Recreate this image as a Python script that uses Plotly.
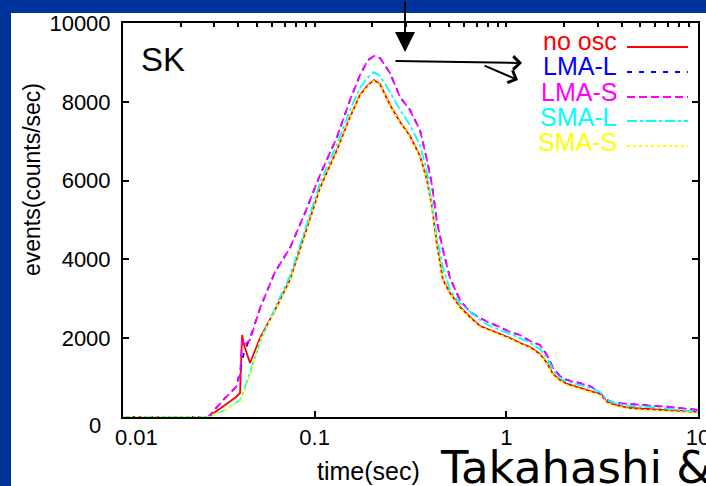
import plotly.graph_objects as go

# ---- data ----
time = [0.01, 0.0198, 0.0278, 0.0341, 0.0389, 0.0408, 0.0418, 0.0428, 0.046, 0.0519,
        0.0621, 0.0743, 0.089, 0.1066, 0.1308, 0.1529, 0.1724, 0.1898, 0.2039, 0.2193,
        0.2472, 0.2788, 0.3144, 0.3543, 0.3855, 0.4094, 0.4347, 0.4672, 0.5083, 0.573,
        0.6462, 0.7289, 0.8218, 0.9267, 1.045, 1.178, 1.329, 1.498, 1.63, 1.751,
        1.905, 2.073, 2.423, 2.733, 3.081, 3.351, 3.689, 4.418, 5.617, 7.143, 10.0]

no_osc = [0, 0, 0, 305, 508, 609, 2081, 1827, 1370, 2005,
          2716, 3477, 4619, 5812, 6777, 7614, 8172, 8426, 8553, 8452,
          7919, 7487, 7132, 6624, 6015, 5330, 4365, 3477, 3147, 2792,
          2538, 2310, 2208, 2107, 2005, 1878, 1777, 1599, 1370, 1091,
          939, 838, 736, 660, 584, 381, 305, 228, 203, 178, 127]

lma_l = [0, 0, 0, 482, 761, 1142, 1396, 1650, 2005, 2766,
         3680, 4289, 5178, 6142, 7106, 8046, 8680, 9061, 9162, 9112,
         8731, 8122, 7792, 7284, 6523, 5888, 4949, 4238, 3528, 2970,
         2665, 2513, 2386, 2284, 2157, 2081, 1929, 1827, 1574, 1244,
         1041, 939, 863, 787, 609, 431, 355, 330, 305, 254, 178]

lma_s = [0, 0, 0, 482, 761, 1066, 1954, 1827, 1954, 2766,
         3680, 4289, 5178, 6142, 7106, 8046, 8680, 9061, 9162, 9112,
         8731, 8122, 7792, 7284, 6523, 5888, 4949, 4238, 3528, 2970,
         2665, 2513, 2386, 2284, 2157, 2081, 1929, 1827, 1574, 1244,
         1041, 939, 863, 787, 609, 431, 355, 330, 305, 254, 178]

sma_l = [0, 0, 0, 178, 355, 431, 558, 685, 1142, 1904,
         2766, 3579, 4746, 5939, 6929, 7792, 8350, 8629, 8756, 8655,
         8249, 7792, 7411, 6904, 6218, 5431, 4543, 3782, 3223, 2893,
         2665, 2462, 2310, 2208, 2107, 2005, 1878, 1726, 1497, 1193,
         990, 888, 812, 736, 635, 431, 355, 279, 254, 203, 127]

sma_s = [0, 0, 0, 178, 330, 406, 508, 635, 1041, 1954,
         2690, 3452, 4594, 5787, 6751, 7589, 8147, 8401, 8528, 8426,
         7894, 7462, 7106, 6599, 5990, 5304, 4340, 3452, 3122, 2766,
         2513, 2284, 2183, 2081, 1980, 1853, 1751, 1574, 1345, 1066,
         914, 812, 711, 635, 558, 355, 279, 203, 178, 152, 102]

series_names = ["no osc", "LMA-L", "LMA-S", "SMA-L", "SMA-S"]
series_values = [no_osc, lma_l, lma_s, sma_l, sma_s]
series_colors = ["#ff0000", "#0000ff", "#ff00ff", "#00ffff", "#ffff00"]
series_dash = ["solid", "5px,7px", "8px,4px", "10px,3px,3px,3px", "3px,3px"]

x_tick_vals = [0.01, 0.1, 1, 10]
x_tick_text = ["", "0.1", "1", "10"]          # "0.01" drawn offset, as in the reference
y_tick_vals = [0, 2000, 4000, 6000, 8000, 10000]
y_tick_text = ["", "2000", "4000", "6000", "8000", "10000"]  # "0" drawn offset
x_minor_vals = [m * d for d in (0.01, 0.1, 1) for m in range(1, 10)] + [10]

# ---- layout geometry (pixels) ----
W, H = 706, 486
L, R, T, B = 123, 8, 23, 69
PW, PH = W - L - R, H - T - B


def px(xp):
    return (xp - L) / PW


def py(yp):
    return (H - B - yp) / PH


fig = go.Figure()
for name, vals, col, dash in zip(series_names, series_values, series_colors, series_dash):
    fig.add_trace(go.Scatter(x=time, y=vals, mode="lines", name=name,
                             line=dict(color=col, width=1.8, dash=dash),
                             showlegend=False))
# invisible trace so the top / right frame axes are drawn
fig.add_trace(go.Scatter(x=time, y=no_osc, xaxis="x2", yaxis="y2", mode="lines",
                         line=dict(width=0), opacity=0, showlegend=False,
                         hoverinfo="skip"))

FONT = "Arial, Liberation Sans"
tickfont = dict(family=FONT, size=22, color="black")
frame = dict(showline=True, linewidth=2, linecolor="black", showgrid=False,
             zeroline=False, tickcolor="black", tickwidth=2, ticks="inside",
             automargin=False)

fig.update_layout(
    width=W, height=H,
    margin=dict(l=L, r=R, t=T, b=B, pad=0, autoexpand=False),
    paper_bgcolor="#003399",
    plot_bgcolor="white",
    xaxis=dict(type="log", range=[-2, 1], tickvals=x_tick_vals, ticktext=x_tick_text,
               ticklen=6, tickfont=tickfont, ticklabeloverflow="allow", **frame),
    xaxis2=dict(type="log", range=[-2, 1], overlaying="x", side="top", anchor="y2",
                tickvals=x_minor_vals, ticklen=4, showticklabels=False, **frame),
    yaxis=dict(range=[0, 10000], tickvals=y_tick_vals, ticktext=y_tick_text,
               ticklen=6, tickfont=tickfont, ticklabelstandoff=6, **frame),
    yaxis2=dict(range=[0, 10000], overlaying="y", side="right", anchor="x2",
                tickvals=y_tick_vals, ticklen=6, showticklabels=False, **frame),
)

# white slide panel behind everything
fig.add_shape(type="rect", xref="paper", yref="paper", layer="below",
              x0=px(11), x1=px(720), y0=py(500), y1=py(13),
              fillcolor="white", line=dict(width=0))


def text_ann(text, xp, yp, size, color="black", xanchor="center", family=FONT, angle=0):
    return dict(text=text, x=px(xp), y=py(yp), xref="paper", yref="paper",
                xanchor=xanchor, yanchor="middle", showarrow=False, textangle=angle,
                font=dict(family=family, size=size, color=color))


annotations = [
    text_ann("0", 95, 425, 22),
    text_ann("0.01", 136, 437, 22),
    text_ann("events(counts/sec)", 32, 180, 23, angle=-90),
    text_ann("time(sec)", 368, 471, 25),
    text_ann("SK", 139, 59, 33, xanchor="left"),
    text_ann("Takahashi &amp;", 438, 467, 45, xanchor="left", family="DejaVu Sans"),
]

# legend (text on the left, line sample on the right)
text_rows = [41, 66, 92, 117, 142]
line_rows = [47, 72, 97, 121, 146]
for name, col, dash, ty, ly in zip(series_names, series_colors, series_dash, text_rows, line_rows):
    annotations.append(text_ann(name, 619, ty, 25, color=col, xanchor="right"))
    fig.add_shape(type="line", xref="paper", yref="paper",
                  x0=px(627), x1=px(688), y0=py(ly), y1=py(ly),
                  line=dict(color=col, width=1.8, dash=dash))

# hand-drawn arrows
annotations.append(dict(x=px(405), y=py(52), ax=0, ay=-52, xref="paper", yref="paper",
                        showarrow=True, arrowhead=2, arrowsize=2.0, arrowwidth=2,
                        arrowcolor="black", text=""))
annotations.append(dict(x=px(522), y=py(63), ax=-128, ay=-2, xref="paper", yref="paper",
                        showarrow=True, arrowhead=4, arrowsize=1.3, arrowwidth=2,
                        arrowcolor="black", text=""))
annotations.append(dict(x=px(518), y=py(80), ax=-35, ay=-15, xref="paper", yref="paper",
                        showarrow=True, arrowhead=4, arrowsize=1.3, arrowwidth=2,
                        arrowcolor="black", text=""))
fig.update_layout(annotations=annotations)

fig.write_html("out.html", config={"displayModeBar": False},
               post_script="document.body.style.margin='0';")
